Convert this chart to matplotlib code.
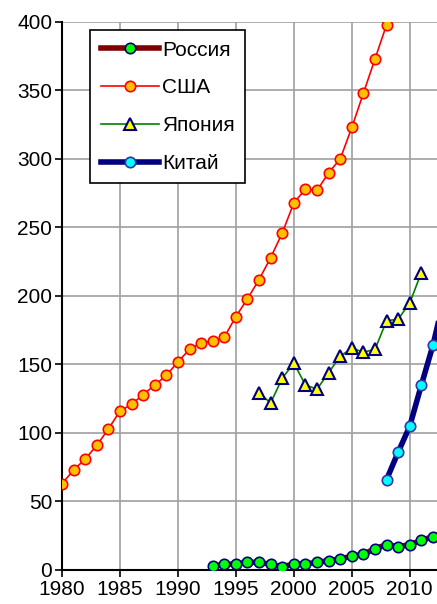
import numpy as np
import matplotlib.pyplot as plt

plt.rcParams['font.family'] = ['Liberation Sans', 'DejaVu Sans']

years_rus = list(range(1993, 2014))
rus = [2.9, 4.1, 4.4, 5.6, 5.6, 4.1, 2.4, 4.4, 4.4, 5.6, 6.8, 8.0, 10.2, 11.4, 15.6, 18.5, 17.0, 18.5, 21.7, 24.3, 27.0]

years_usa = list(range(1980, 2009))
usa = [63, 73, 81, 91, 103, 116, 121, 128, 135, 142, 152, 161, 166, 167, 170, 185, 198, 212, 228, 246,
       268, 278, 277, 290, 300, 323, 348, 373, 398]

years_jpn = list(range(1997, 2012))
jpn = [129, 122, 140, 151, 135, 132, 144, 156, 162, 159, 161, 182, 183, 195, 217]

years_chn = list(range(2008, 2014))
chn = [66, 86, 105, 135, 164, 200]

fig = plt.figure(figsize=(4.37, 6.04), dpi=100)
ax = fig.add_axes([0.142, 0.0563, 0.858, 0.9073])

ax.plot(years_rus, rus, color='#800000', lw=4, marker='o', ms=7.5,
        mfc='#00ff00', mec='#000080', mew=1.2, label='Россия', zorder=3)
ax.plot(years_usa, usa, color='#ff0000', lw=1.2, marker='o', ms=7.5,
        mfc='#ffc000', mec='#ff0000', mew=1.2, label='США', zorder=3)
ax.plot(years_jpn, jpn, color='#008000', lw=1.2, marker='^', ms=9,
        mfc='#ffff00', mec='#000080', mew=1.5, label='Япония', zorder=3)
ax.plot(years_chn, chn, color='#000080', lw=4, marker='o', ms=7.5,
        mfc='#00ffff', mec='#3333aa', mew=1.2, label='Китай', zorder=3)

ax.set_xlim(1980, 2012.35)
ax.set_ylim(0, 400)
ax.set_xticks(range(1980, 2015, 5))
ax.set_yticks(range(0, 401, 50))
ax.grid(color='#a0a0a0', lw=1.2)
ax.set_axisbelow(True)
ax.spines['right'].set_visible(False)
ax.spines['top'].set_visible(False)
ax.spines['left'].set_linewidth(1.5)
ax.spines['bottom'].set_linewidth(1.5)
ax.tick_params(labelsize=15, length=5, width=1.2, pad=2)

leg = ax.legend(loc='upper left', bbox_to_anchor=(0.075, 0.985), fontsize=15,
                frameon=True, fancybox=False, edgecolor='black', framealpha=1,
                handlelength=2.8, handletextpad=0.15, labelspacing=0.9,
                borderpad=0.5, borderaxespad=0)
leg.get_frame().set_linewidth(1.2)

fig.savefig('out.png', dpi=100)
